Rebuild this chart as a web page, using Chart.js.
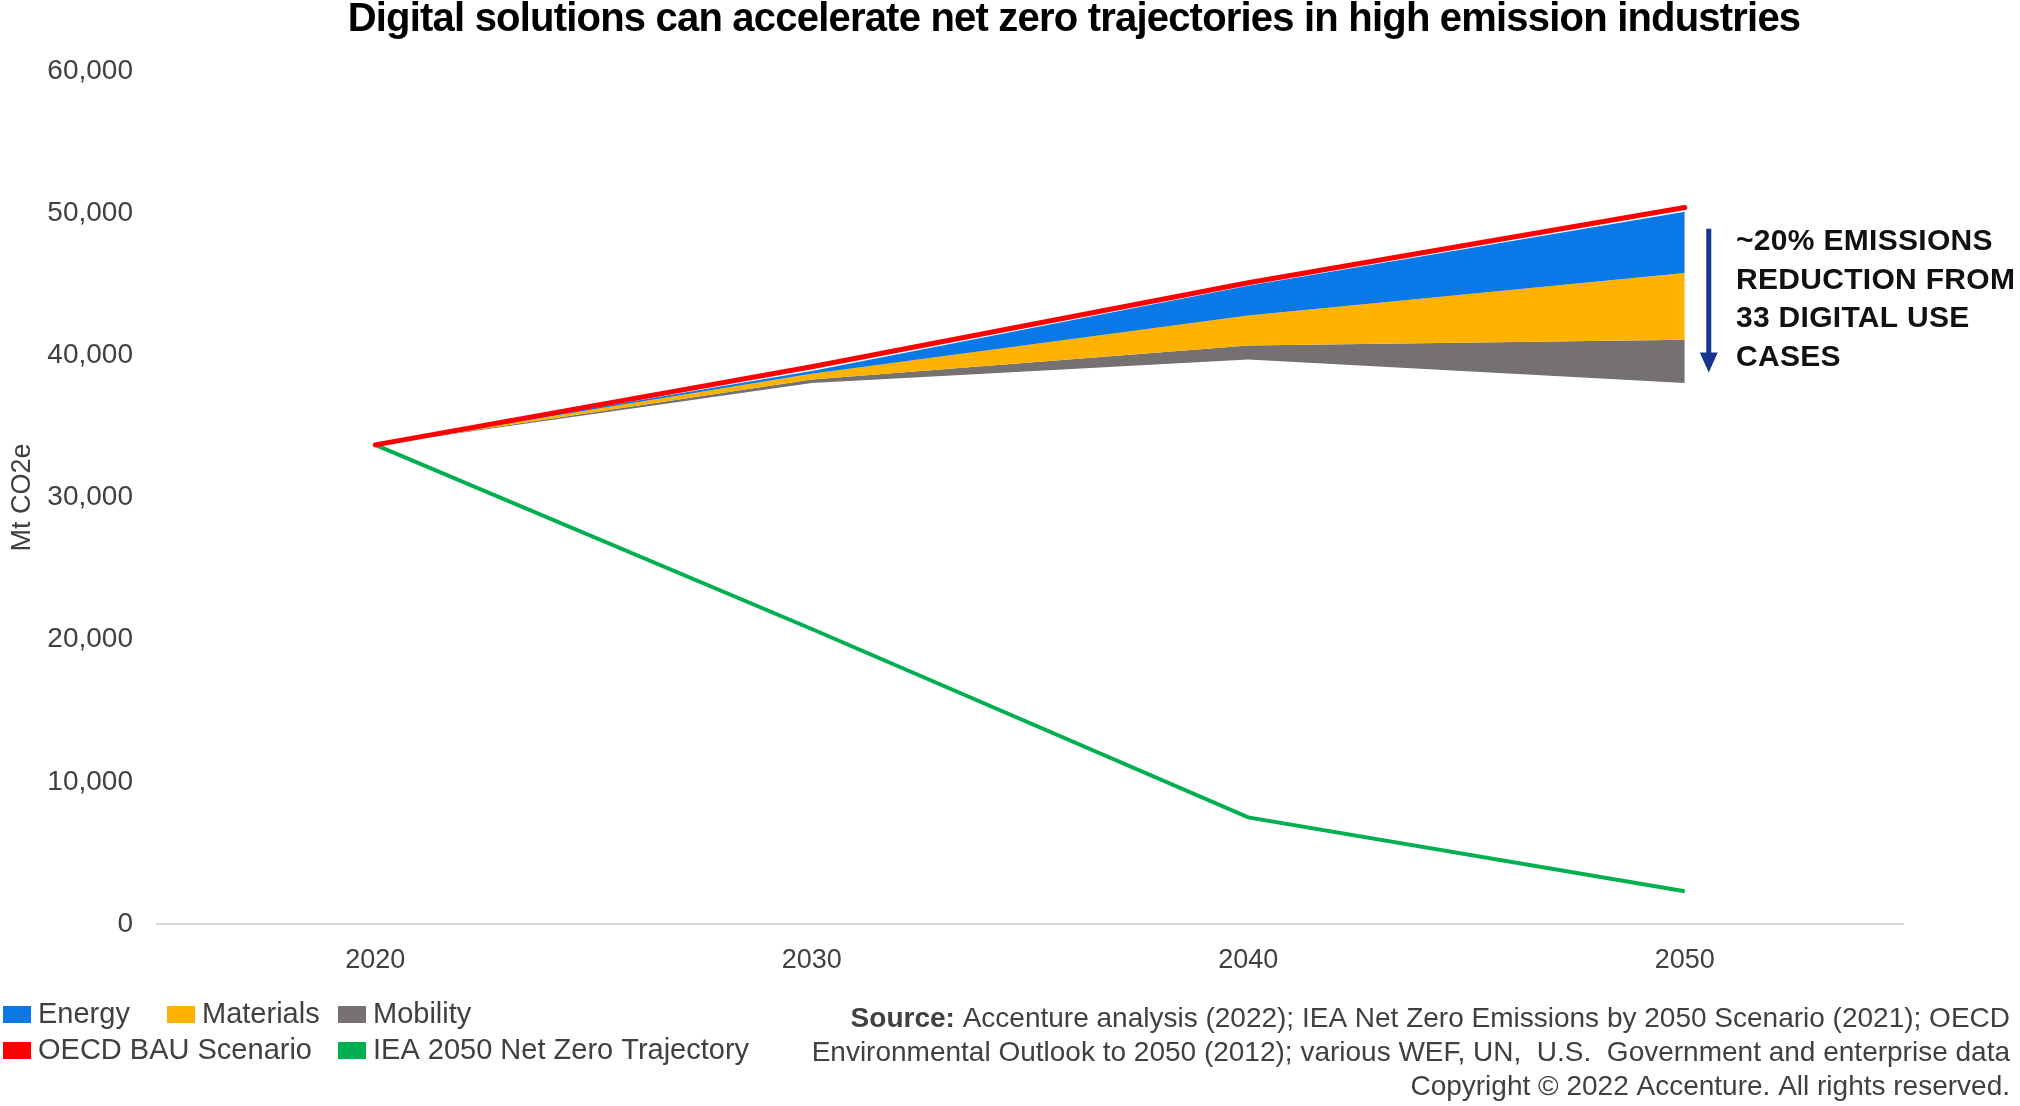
<!DOCTYPE html>
<html>
<head>
<meta charset="utf-8">
<script src="https://cdn.jsdelivr.net/npm/chart.js@4.4.1/dist/chart.umd.min.js"></script>
<style>
  html, body { margin: 0; padding: 0; background: #fff; }
  #wrap { position: relative; width: 2020px; height: 1106px; }
</style>
</head>
<body>
<div id="wrap"><canvas id="chart"></canvas></div>
<script>
// values (Mt CO2e)
const years = ['2020', '2030', '2040', '2050'];
const oecdBau = [33700, 39200, 45100, 50400];
const energyTop = [33700, 38900, 44900, 50100];
const materialsTop = [33700, 38700, 42800, 45800];
const mobilityTop = [33700, 38300, 40700, 41100];
const digitalPath = [33700, 38050, 39700, 38050];
const ieaNetZero = [33700, 20750, 7500, 2300];

const titleText = 'Digital solutions can accelerate net zero trajectories in high emission industries';
const calloutLines = ['~20% EMISSIONS', 'REDUCTION FROM', '33 DIGITAL USE', 'CASES'];
const sourceLines = [
    'Accenture analysis (2022); IEA Net Zero Emissions by 2050 Scenario (2021); OECD',
    'Environmental Outlook to 2050 (2012); various WEF, UN,  U.S.  Government and enterprise data',
    'Copyright \u00A9 2022 Accenture. All rights reserved.'
];

const FONT = '"Liberation Sans", Arial, sans-serif';
const TEXT = '#404040';

const colors = {
    energy: '#0A78E6',
    materials: '#FFB300',
    mobility: '#767171',
    bau: '#FF0000',
    iea: '#00B050'
};

// legend rows, drawn by hand so the wrapping matches
const legendItems = [
    { label: 'Energy', color: colors.energy, x: 3, row: 0 },
    { label: 'Materials', color: colors.materials, x: 167, row: 0 },
    { label: 'Mobility', color: colors.mobility, x: 338, row: 0 },
    { label: 'OECD BAU Scenario', color: colors.bau, x: 3, row: 1 },
    { label: 'IEA 2050 Net Zero Trajectory', color: colors.iea, x: 338, row: 1 }
];

const decorPlugin = {
    id: 'decor',
    afterDraw(chart) {
        const ctx = chart.ctx;
        const x = chart.scales.x;
        const y = chart.scales.y;
        ctx.save();

        // title
        ctx.fillStyle = '#000';
        ctx.font = 'bold 40px ' + FONT;
        ctx.letterSpacing = '-0.8px';
        ctx.textAlign = 'center';
        ctx.textBaseline = 'middle';
        ctx.fillText(titleText, 1074, 20);
        ctx.letterSpacing = '0px';

        // callout arrow next to 2050
        const ax = x.getPixelForValue(3) + 24;
        const yTop = y.getPixelForValue(48900);
        const yTip = y.getPixelForValue(38800);
        ctx.strokeStyle = '#17358C';
        ctx.fillStyle = '#17358C';
        ctx.lineWidth = 5;
        ctx.beginPath();
        ctx.moveTo(ax, yTop);
        ctx.lineTo(ax, yTip - 16);
        ctx.stroke();
        ctx.beginPath();
        ctx.moveTo(ax - 9, yTip - 20);
        ctx.lineTo(ax + 9, yTip - 20);
        ctx.lineTo(ax, yTip);
        ctx.closePath();
        ctx.fill();

        ctx.fillStyle = '#111';
        ctx.font = 'bold 30px ' + FONT;
        ctx.letterSpacing = '0.3px';
        ctx.textAlign = 'left';
        calloutLines.forEach((line, i) => ctx.fillText(line, 1736, 242 + i * 38.5));
        ctx.letterSpacing = '0px';

        // legend
        ctx.font = '29px ' + FONT;
        legendItems.forEach(item => {
            const cy = 1014 + item.row * 36;
            ctx.fillStyle = item.color;
            ctx.fillRect(item.x, cy - 8, 28, 17);
            ctx.fillStyle = TEXT;
            ctx.fillText(item.label, item.x + 35, cy + 1);
        });

        // source note, right aligned
        ctx.textAlign = 'right';
        ctx.font = '28px ' + FONT;
        ctx.fillStyle = TEXT;
        const right = 2010;
        ctx.fillText(sourceLines[0], right, 1019);
        const w0 = ctx.measureText(sourceLines[0]).width;
        ctx.font = 'bold 28px ' + FONT;
        ctx.fillText('Source: ', right - w0, 1019);
        ctx.font = '28px ' + FONT;
        ctx.fillText(sourceLines[1], right, 1053);
        ctx.fillText(sourceLines[2], right, 1087);

        ctx.restore();
    }
};

const bandStyle = (color, fillTarget) => ({
    borderWidth: 0,
    borderColor: color,
    backgroundColor: color,
    pointRadius: 0,
    fill: fillTarget
});

new Chart(document.getElementById('chart'), {
    type: 'line',
    data: {
        labels: years,
        datasets: [
            { label: 'OECD BAU Scenario', data: oecdBau, borderColor: colors.bau, borderWidth: 5,
              borderCapStyle: 'round', pointRadius: 0, fill: false, order: 0 },
            { label: 'IEA 2050 Net Zero Trajectory', data: ieaNetZero, borderColor: colors.iea, borderWidth: 4,
              pointRadius: 0, fill: false, order: 1 },
            { label: 'base', data: digitalPath, borderWidth: 0, pointRadius: 0, fill: false, order: 5 },
            { label: 'Mobility', data: mobilityTop, ...bandStyle(colors.mobility, 2), order: 4 },
            { label: 'Materials', data: materialsTop, ...bandStyle(colors.materials, 3), order: 3 },
            { label: 'Energy', data: energyTop, ...bandStyle(colors.energy, 4), order: 2 }
        ]
    },
    options: {
        responsive: true,
        maintainAspectRatio: false,
        animation: false,
        devicePixelRatio: 1,
        elements: { line: { tension: 0 } },
        layout: { padding: { top: 71, right: 117, bottom: 122, left: 0 } },
        plugins: {
            legend: { display: false },
            title: { display: false },
            tooltip: { enabled: false }
        },
        scales: {
            x: {
                offset: true,
                grid: { display: false, drawTicks: false },
                border: { display: true, color: '#D9D9D9', width: 2 },
                ticks: { color: TEXT, font: { family: FONT, size: 27 }, padding: 20 },
                afterFit: s => { s.height = 60; }
            },
            y: {
                min: 0,
                max: 60000,
                grid: { display: false, drawTicks: false },
                border: { display: false },
                ticks: {
                    stepSize: 10000,
                    color: TEXT,
                    font: { family: FONT, size: 28 },
                    padding: 24,
                    callback: v => v.toLocaleString('en-US')
                },
                title: {
                    display: true,
                    text: 'Mt CO2e',
                    color: TEXT,
                    font: { family: FONT, size: 27 },
                    padding: { top: 6, bottom: 0 }
                },
                afterFit: s => { s.width = 157; }
            }
        }
    },
    plugins: [decorPlugin]
});
</script>
</body>
</html>
